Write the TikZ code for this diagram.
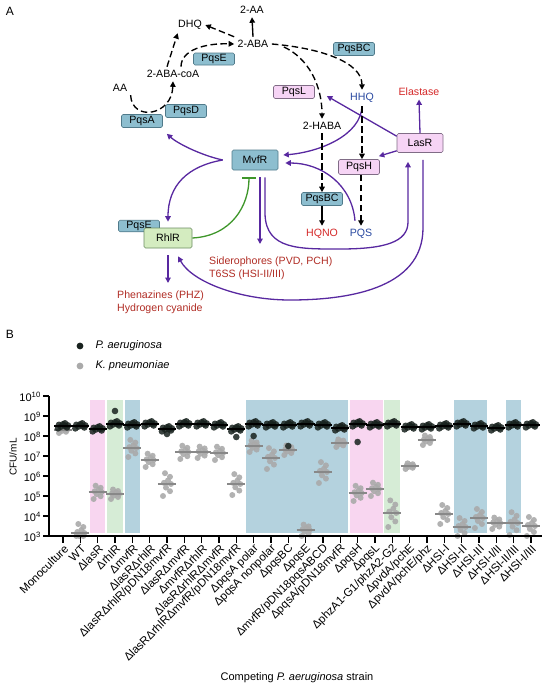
\documentclass[tikz,border=0pt]{standalone}
\usepackage{fontspec}
\setmainfont{Liberation Sans}
\usetikzlibrary{arrows.meta}
\definecolor{boxblue}{RGB}{141,190,207}
\definecolor{boxblueline}{RGB}{80,122,138}
\definecolor{boxpink}{RGB}{246,212,245}
\definecolor{boxpinkline}{RGB}{128,108,134}
\definecolor{boxgreen}{RGB}{212,236,192}
\definecolor{boxgreenline}{RGB}{108,140,98}
\definecolor{purpleline}{RGB}{88,40,160}
\definecolor{inhibgreen}{RGB}{62,150,42}
\definecolor{elred}{RGB}{212,40,40}
\definecolor{prodred}{RGB}{176,44,36}
\definecolor{qsblue}{RGB}{40,72,160}
\definecolor{bandpink}{RGB}{248,214,240}
\definecolor{bandgreen}{RGB}{214,236,214}
\definecolor{bandblue}{RGB}{180,210,222}
\definecolor{padot}{RGB}{24,34,30}
\definecolor{kpdot}{RGB}{170,170,170}
\tikzset{
  smallbox/.style={minimum width=41pt, minimum height=13pt, inner sep=1pt, rounded corners=1.5pt, line width=0.6pt},
  bluebox/.style={smallbox, draw=boxblueline, fill=boxblue},
  pinkbox/.style={smallbox, draw=boxpinkline, fill=boxpink},
  greenbox/.style={smallbox, draw=boxgreenline, fill=boxgreen},
  bigbox/.style={minimum width=46pt, minimum height=19pt},
  dasharrow/.style={black, line width=1.35pt, dash pattern=on 6.5pt off 3.5pt, -{Triangle[length=5.5pt,width=5.5pt]}},
  solidarrow/.style={black, line width=1.35pt, -{Triangle[length=5.5pt,width=5.5pt]}},
  purplearrow/.style={purpleline, line width=1.3pt, -{Triangle[length=5.5pt,width=5.5pt]}},
  inhibit/.style={inhibgreen, line width=1.3pt, -{Bar[width=14pt,line width=1.5pt]}},
  axisline/.style={black, line width=1.5pt},
  ticklabel/.style={font=\fontsize{11}{13}\selectfont, inner sep=1pt},
  strainlabel/.style={font=\fontsize{11.5}{13}\selectfont, inner sep=1pt, rotate=45, anchor=east},
}
\begin{document}
\begin{tikzpicture}[x=1pt, y=-1pt, font=\fontsize{10.6}{13}\selectfont]
\useasboundingbox (0,0) rectangle (550,691);
\node at (10,11) {\fontsize{12}{14}\selectfont A};
\node (dhq) at (190,25) {DHQ};
\node (aa2) at (252,10) {2-AA};
\node (aba) at (253,44) {2-ABA};
\node[bluebox, minimum height=12pt] (pqsetop) at (214,59) {PqsE};
\node (abacoa) at (173,74) {2-ABA-coA};
\node (aa) at (120,88) {AA};
\node[bluebox] (pqsd) at (186,111) {PqsD};
\node[bluebox] (pqsa) at (142,121) {PqsA};
\node[bluebox] (pqsbctop) at (354,49) {PqsBC};
\node[pinkbox] (pqsl) at (294,92) {PqsL};
\node[text=qsblue] (hhq) at (362,98) {HHQ};
\node[text=elred] (elastase) at (419,92) {Elastase};
\node (haba) at (322,126) {2-HABA};
\node[pinkbox, bigbox] (lasr) at (420,143) {LasR};
\node[bluebox, bigbox, minimum height=20pt] (mvfr) at (255,160) {MvfR};
\node[pinkbox, minimum height=15pt] (pqsh) at (359,167) {PqsH};
\node[bluebox] (pqsbc) at (322,199) {PqsBC};
\node[text=elred] (hqno) at (322,234) {HQNO};
\node[text=qsblue] (pqs) at (361,234) {PQS};
\node[bluebox, minimum height=11pt] (pqse) at (139,226) {PqsE};
\node[greenbox, minimum width=48pt, minimum height=20pt] (rhlr) at (168,238) {RhlR};
\node[text=prodred, align=left, anchor=north west, inner sep=0pt] (phz) at (117,291) {Phenazines (PHZ)\\Hydrogen cyanide};
\node[text=prodred, align=left, anchor=north west, inner sep=0pt] (sid) at (209,257) {Siderophores (PVD, PCH)\\T6SS (HSI-II/III)};
\draw[dasharrow] (aa.south east) .. controls (132,122) and (172,116) .. (abacoa.south);
\draw[dasharrow] ([xshift=-6pt]abacoa.north) -- ([xshift=3pt]dhq.south west);
\draw[dasharrow] ([xshift=8pt]abacoa.north) .. controls (181,50) and (205,43) .. (aba.west);
\draw[dasharrow] (aba.north west) -- (dhq.east);
\draw[solidarrow] (aba.north) -- (aa2.south);
\draw[dasharrow] (aba.east) .. controls (320,48) and (362,62) .. (hhq.north);
\draw[dasharrow] ([xshift=12pt,yshift=-3pt]aba.east) .. controls (308,58) and (322,85) .. (haba.north);
\draw[purplearrow] (lasr.north) -- (elastase.south);
\draw[purplearrow] ([yshift=-3pt]lasr.north west) -- ([xshift=12pt,yshift=-4pt]pqsl.east);
\draw[purplearrow] ([yshift=2pt]lasr.south west) -- ([xshift=-1pt,yshift=3pt]pqsh.north east);
\draw[purplearrow] (hhq.south) .. controls (361,135) and (320,152) .. ([xshift=5pt,yshift=5pt]mvfr.east);
\draw[purplearrow] ([xshift=-6pt,yshift=5pt]pqs.north) .. controls (352,185) and (322,163) .. ([xshift=7pt,yshift=-3pt]mvfr.east);
\draw[dasharrow] (hhq.south) -- (hhq.south |- pqsh.north);
\draw[dasharrow] (haba.south) -- (pqsbc.north);
\draw[solidarrow] (pqsbc.south) -- (hqno.north);
\draw[dasharrow] (pqsh.south -| pqs.north) -- (pqs.north);
\coordinate (mvfrl) at ([xshift=-9pt]mvfr.west);
\coordinate (mvfrs1) at ([xshift=5pt]mvfr.south);
\coordinate (mvfrs2) at ([xshift=10pt]mvfr.south);
\draw[purplearrow] (mvfrl) .. controls (200,155) and (177,143) .. ([xshift=4pt,yshift=-6pt]pqsa.south east);
\draw[purplearrow] (mvfrl) .. controls (188,166) and (168,185) .. ([yshift=6pt]rhlr.north);
\draw[inhibit] (rhlr.east) .. controls (232,236) and (249,205) .. ([xshift=-6pt,yshift=-7pt]mvfr.south);
\draw[purplearrow, shorten <=7pt, shorten >=8pt] (rhlr.south) -- (rhlr.south |- phz.north);
\draw[purplearrow, shorten <=7pt, shorten >=13pt] (mvfrs1) -- (mvfrs1 |- sid.north);
\draw[purplearrow, shorten <=7pt] (mvfrs2) -- (265,214) .. controls (266,250) and (300,249) .. (340,249) .. controls (385,249) and (408,242) .. (408,222) -- ([xshift=-12pt,yshift=-9pt]lasr.south);
\draw[purplearrow, shorten <=7pt] ([xshift=3pt]lasr.south) -- (423,228) .. controls (423,290) and (345,300) .. (290,300) .. controls (240,300) and (192,282) .. ([xshift=10pt,yshift=-8pt]rhlr.south);
\node at (10,334) {\fontsize{12}{14}\selectfont B};
\fill[padot] (80,346) circle[radius=3.4pt];
\node[anchor=west, font=\fontsize{11}{13}\selectfont\itshape] at (92,346) {P. aeruginosa};
\fill[kpdot] (80,366) circle[radius=3.4pt];
\node[anchor=west, font=\fontsize{11}{13}\selectfont\itshape] at (92,366) {K. pneumoniae};
\foreach \a/\b/\c in {2/2/bandpink, 3/3/bandgreen, 4/4/bandblue, 11/16/bandblue, 17/18/bandpink, 19/19/bandgreen, 23/24/bandblue, 26/26/bandblue}
  \fill[\c] ({63+17.33*\a-7.8},400) rectangle ({63+17.33*\b+7.8},533);
\foreach \i/\pa/\kp/\spr in {0/8.5/8.3/0.15, 1/8.5/3.15/0.5, 2/8.35/5.2/0.35, 3/8.6/5.1/0.25, 4/8.55/7.4/0.45,
  5/8.6/6.8/0.35, 6/8.35/5.6/0.6, 7/8.6/7.2/0.35, 8/8.6/7.2/0.3, 9/8.55/7.15/0.35, 10/8.35/5.6/0.55,
  11/8.6/7.5/0.3, 12/8.55/6.9/0.55, 13/8.55/7.3/0.25, 14/8.6/3.3/0.3, 15/8.55/6.2/0.55, 16/8.4/7.65/0.2,
  17/8.6/5.15/0.4, 18/8.55/5.35/0.35, 19/8.6/4.15/0.7, 20/8.45/6.5/0.15, 21/8.45/7.8/0.25, 22/8.5/4.1/0.5,
  23/8.6/3.45/0.5, 24/8.5/3.9/0.5, 25/8.4/3.65/0.3, 26/8.55/3.65/0.6, 27/8.55/3.5/0.5}{
  \pgfmathsetmacro{\cx}{63+17.33*\i}
  \foreach \dx/\dy in {-4/-1.0, 3/-0.6, -1/-0.3, 4/0.0, -3/0.1, 1/0.3, 3/0.6, -2/0.9}
    \fill[kpdot, opacity=0.9] ({\cx+(\dx)},{596-20*max(3,\kp+(\dy)*\spr)}) circle[radius=3pt];
  \draw[kpdot!80!black, line width=1.2pt] ({\cx-9},{596-20*\kp}) -- ({\cx+9},{596-20*\kp});
  \foreach \dx/\dy in {-5/-0.8, 4/-0.5, -2/-0.2, 2/0, 5/0.2, -4/0.4, 0/0.6, 2/0.9}
    \fill[padot, opacity=0.85] ({\cx+(\dx)},{596-20*(\pa+(\dy)*0.15)}) circle[radius=3.3pt];
  \draw[black, line width=1.5pt] ({\cx-9},{596-20*\pa}) -- ({\cx+9},{596-20*\pa});
}
\foreach \i/\v in {3/9.25, 6/8.1, 10/7.95, 11/8.0, 13/7.5, 17/7.7}
  \fill[padot, opacity=0.85] ({63+17.33*\i},{596-20*\v}) circle[radius=3.3pt];
\draw[axisline] (49,396) -- (49,536) -- (542,536);
\foreach \k in {3,...,10}{
  \draw[axisline] (43,{596-20*\k}) -- (49,{596-20*\k});
  \node[ticklabel, anchor=base east] at (42,{601-20*\k}) {10\textsuperscript{\k}};
}
\foreach \lab [count=\n from 0] in {Monoculture, WT, ΔlasR, ΔrhlR, ΔmvfR, ΔlasRΔrhlR, ΔlasRΔrhlR/pDN18mvfR,
  ΔlasRΔmvfR, ΔmvfRΔrhlR, ΔlasRΔrhlRΔmvfR, ΔlasRΔrhlRΔmvfR/pDN18mvfR, ΔpqsA polar, ΔpqsA nonpolar,
  ΔpqsBC, ΔpqsE, ΔmvfR/pDN18pqsABCD, ΔpqsA/pDN18mvfR, ΔpqsH, ΔpqsL, ΔphzA1-G1/phzA2-G2, ΔpvdA/pchE,
  ΔpvdA/pchE/phz, ΔHSI-I, ΔHSI-II, ΔHSI-III, ΔHSI-I/II, ΔHSI-II/III, ΔHSI-I/III}{
  \draw[axisline] ({63+17.33*\n},536) -- ({63+17.33*\n},543);
  \node[strainlabel] at ({63+17.33*\n+4},546) {\lab};
}
\node[ticklabel, font=\fontsize{10}{12}\selectfont, rotate=90] at (13,457) {CFU/mL};
\node[ticklabel] at (297,678) {Competing \textit{P. aeruginosa} strain};
\end{tikzpicture}
\end{document}
